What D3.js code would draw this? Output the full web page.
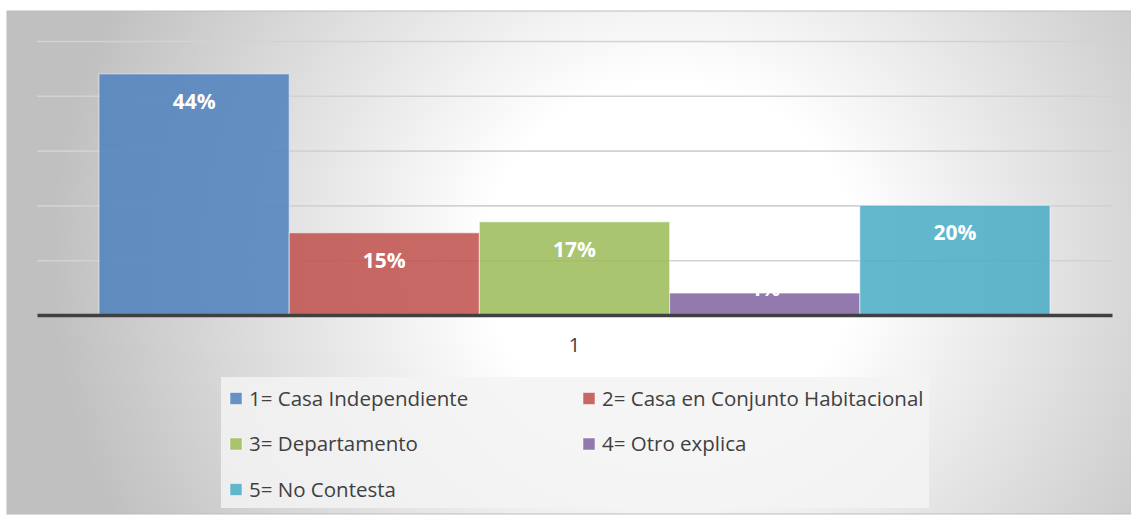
<!DOCTYPE html>
<html>
<head>
<meta charset="utf-8">
<script src="https://cdn.jsdelivr.net/npm/d3@7"></script>
<style>
  html, body { margin: 0; padding: 0; background: #ffffff; }
  svg { display: block; }
  text { font-family: "Open Sans", Lato, sans-serif; }
</style>
</head>
<body>
<svg id="chart" width="1131" height="515"></svg>
<script>
// Housing type survey: share of respondents per answer
const categories = ["1"];
const seriesNames = [
  "1= Casa Independiente",
  "2= Casa en Conjunto Habitacional",
  "3= Departamento",
  "4= Otro explica",
  "5= No Contesta"
];
const seriesValues = [0.44, 0.15, 0.17, 0.04, 0.20];
const seriesColors = ["#4f81bd", "#c0504d", "#9bbb59", "#8064a2", "#4bacc6"];
const gridTicks = [0.1, 0.2, 0.3, 0.4, 0.5];

const svg = d3.select("#chart");

// chart area frame and plot region
const frame = { x: 7, y: 11, w: 1130, h: 503 };
const plot = { left: 37, right: 1112, top: 41, bottom: 315 };

const defs = svg.append("defs");

const bg = defs.append("radialGradient")
  .attr("id", "bgGrad")
  .attr("gradientUnits", "userSpaceOnUse")
  .attr("cx", 670).attr("cy", 260).attr("r", 620)
  .attr("gradientTransform", "translate(670,260) scale(1,0.95) translate(-670,-260)");
bg.append("stop").attr("offset", 0).attr("stop-color", "#ffffff");
bg.append("stop").attr("offset", 0.3).attr("stop-color", "#ffffff");
bg.append("stop").attr("offset", 1).attr("stop-color", "#c0c0c0");

const gridGrad = defs.append("linearGradient")
  .attr("id", "gridGrad")
  .attr("gradientUnits", "userSpaceOnUse")
  .attr("x1", 0).attr("y1", plot.top).attr("x2", 0).attr("y2", 262);
gridGrad.append("stop").attr("offset", 0).attr("stop-color", "#d2d2d2");
gridGrad.append("stop").attr("offset", 1).attr("stop-color", "#8c8c8c");

svg.append("rect")
  .attr("x", frame.x).attr("y", frame.y)
  .attr("width", frame.w).attr("height", frame.h)
  .attr("fill", "url(#bgGrad)")
  .attr("stroke", "#bdbdbd").attr("stroke-width", 1);

// scales
const y = d3.scaleLinear().domain([0, 0.5]).range([plot.bottom, plot.top]);
const xOuter = d3.scaleBand().domain(categories)
  .range([plot.left, plot.right]).paddingInner(0).paddingOuter(0.0652);
const xInner = d3.scaleBand().domain(seriesNames)
  .range([0, xOuter.bandwidth()]).padding(0);

// horizontal gridlines
const grid = svg.append("g")
  .attr("transform", `translate(${plot.left},0)`)
  .call(d3.axisLeft(y).tickValues(gridTicks)
    .tickSize(-(plot.right - plot.left)).tickFormat(""));
grid.select(".domain").remove();
grid.selectAll(".tick line")
  .attr("stroke", "url(#gridGrad)")
  .attr("stroke-width", 1.6);

// bars
const group = svg.append("g")
  .attr("transform", `translate(${xOuter(categories[0])},0)`);
const data = seriesNames.map((name, i) => ({ name, value: seriesValues[i], color: seriesColors[i] }));

group.selectAll("rect.bar")
  .data(data)
  .join("rect")
  .attr("class", "bar")
  .attr("x", d => xInner(d.name))
  .attr("y", d => y(d.value))
  .attr("width", xInner.bandwidth())
  .attr("height", d => y(0) - y(d.value))
  .attr("fill", d => d.color)
  .attr("fill-opacity", 0.86)
  .attr("stroke", "#ffffff")
  .attr("stroke-opacity", 0.45)
  .attr("stroke-width", 1.2);

// category axis with heavy baseline
const xAxis = svg.append("g")
  .attr("transform", `translate(0,${plot.bottom})`)
  .call(d3.axisBottom(xOuter).tickSize(0).tickSizeOuter(0).tickPadding(23));
xAxis.select(".domain")
  .attr("stroke", "#404040").attr("stroke-width", 3.5);
xAxis.selectAll(".tick text")
  .attr("fill", "#404040")
  .style("font-size", "20px")
  .style("font-family", "'Open Sans', Lato, sans-serif");

// value labels
group.selectAll("text.val")
  .data(data)
  .join("text")
  .attr("class", "val")
  .attr("x", d => xInner(d.name) + xInner.bandwidth() / 2)
  .attr("y", d => {
    const top = y(d.value);
    return (y(0) - top) > 40 ? top + 35 : top + 3;
  })
  .attr("text-anchor", "middle")
  .attr("fill", "#ffffff")
  .style("font-size", "21px")
  .style("font-weight", "bold")
  .text(d => d3.format(".0%")(d.value));

// legend
const legendBox = { x: 221, y: 377, w: 708, h: 131 };
svg.append("rect")
  .attr("x", legendBox.x).attr("y", legendBox.y)
  .attr("width", legendBox.w).attr("height", legendBox.h)
  .attr("fill", "#f3f3f3").attr("fill-opacity", 0.85);

const legendCols = [230, 583];
const legendRows = [398.5, 444, 489.5];
const items = svg.append("g").selectAll("g.item")
  .data(data)
  .join("g")
  .attr("class", "item")
  .attr("transform", (d, i) => `translate(${legendCols[i % 2]},${legendRows[Math.floor(i / 2)]})`);
items.append("rect")
  .attr("x", 0).attr("y", -6)
  .attr("width", 12).attr("height", 12)
  .attr("fill", d => d.color)
  .attr("fill-opacity", 0.86)
  .attr("stroke", "#ffffff").attr("stroke-opacity", 0.5);
items.append("text")
  .attr("x", 19).attr("y", 7)
  .attr("fill", "#404040")
  .style("font-size", "20.5px")
  .text(d => d.name);
</script>
</body>
</html>
